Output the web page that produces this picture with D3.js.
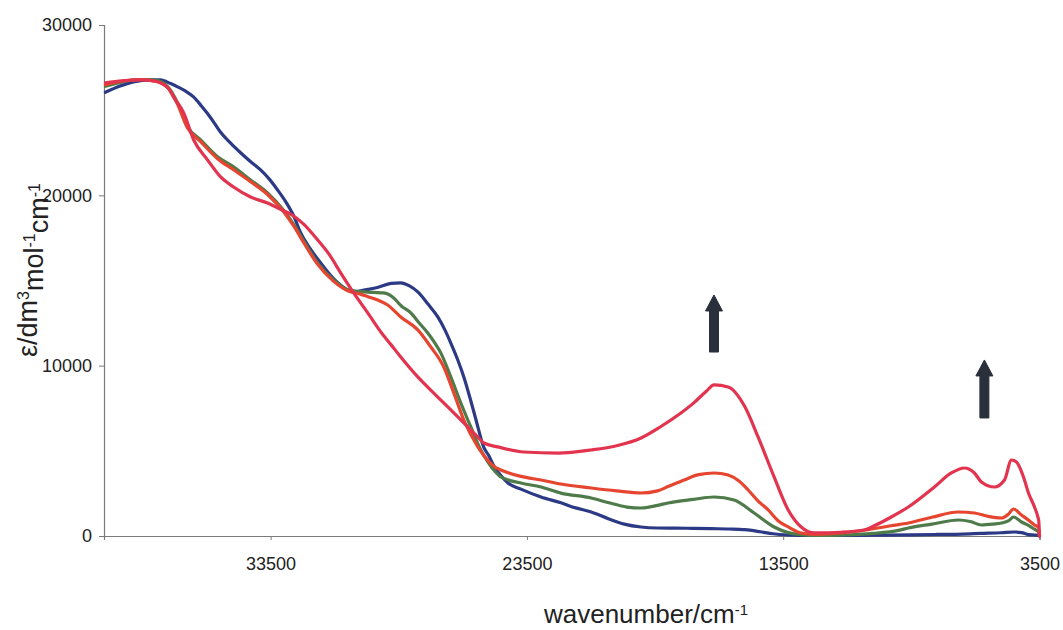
<!DOCTYPE html>
<html>
<head>
<meta charset="utf-8">
<script src="https://cdn.jsdelivr.net/npm/d3@7"></script>
<style>
  html, body { margin: 0; padding: 0; background: #fff; }
  svg { display: block; font-family: "Liberation Sans", Arial, sans-serif; }
</style>
</head>
<body>
<svg id="chart" width="1063" height="630"></svg>
<script>
// ---- data (wavenumber / cm^-1, epsilon / dm3 mol-1 cm-1) ----
const xTicks = [33500, 23500, 13500, 3500];
const yTicks = [0, 10000, 20000, 30000];

const seriesBlue = [
  [39945,26050],[39400,26400],[38850,26660],[38200,26780],[37800,26780],[37400,26560],[37130,26370],
  [36800,26100],[36508,25780],[36200,25250],[35960,24800],[35700,24250],[35450,23700],[35050,23050],
  [34670,22500],[34300,22000],[33890,21490],[33550,20950],[33230,20320],[32900,19600],[32600,18800],
  [32328,17800],[31950,16850],[31547,16030],[31100,15200],[30700,14650],[30258,14330],[29800,14450],
  [29300,14600],[28800,14830],[28422,14860],[28100,14700],[27758,14330],[27350,13600],[26977,12860],
  [26700,12100],[26469,11330],[26200,10350],[25961,9340],[25700,8000],[25500,6900],[25180,5200],
  [25000,4750],[24750,4000],[24516,3550],[24240,3110],[23734,2750],[22950,2290],[22172,1950],
  [21600,1650],[20990,1409],[20300,1000],[19700,700],[19047,528],[18400,470],[17700,460],[17000,450],
  [16300,430],[15600,410],[15000,370],[14400,250],[13900,130],[13300,60],[12500,30],[11500,30],
  [10500,40],[9500,50],[8500,70],[7500,90],[6500,110],[5800,150],[5000,190],[4477,235],[4200,200],
  [3930,80],[3700,60],[3550,40],[3500,0]
];

const seriesGreen = [
  [39945,26400],[39300,26650],[38600,26800],[38000,26760],[37500,26350],[37130,25430],[36740,24020],
  [36230,23250],[35570,22260],[34945,21670],[34280,20900],[33620,20140],[33000,19140],[32600,18300],
  [32200,17300],[31664,16030],[31039,15030],[30492,14450],[30000,14350],[29500,14300],[29086,14270],
  [28695,13970],[28400,13500],[28031,13100],[27700,12500],[27367,11920],[27100,11350],[26860,10750],
  [26469,9340],[26078,7810],[25688,6400],[25297,5050],[25000,4300],[24750,3800],[24516,3465],
  [23734,3110],[22950,2877],[22172,2520],[20990,2230],[20300,1950],[19600,1700],[19047,1644],
  [18400,1800],[17992,1940],[17000,2150],[16195,2290],[15414,2115],[14633,1350],[13852,530],
  [13305,200],[12914,100],[12000,30],[11000,60],[10000,150],[9000,330],[8617,470],[7700,700],
  [6665,940],[6200,850],[5766,646],[5300,700],[4984,763],[4700,900],[4516,1116],[4203,822],
  [3900,600],[3700,400],[3539,235],[3500,0]
];

const seriesOrange = [
  [39945,26500],[39300,26700],[38600,26800],[38000,26700],[37500,26300],[37130,25350],[36740,23950],
  [36230,23150],[35570,22150],[34945,21500],[34280,20800],[33620,20050],[33000,19050],[32600,18200],
  [32200,17200],[31664,15950],[31039,14950],[30492,14400],[30000,14200],[29700,14050],[29320,13860],
  [28930,13560],[28422,12860],[27758,12100],[27250,11100],[26742,9920],[26352,8400],[25961,6810],
  [25414,5230],[25000,4400],[24750,4050],[24516,3876],[23734,3500],[22950,3288],[22172,3050],
  [20990,2818],[20000,2650],[19047,2525],[18400,2650],[17992,2900],[17367,3290],[16800,3600],
  [16195,3700],[15648,3580],[15200,3200],[14867,2700],[14477,2050],[14086,1530],[13700,900],
  [13305,530],[12797,176],[12300,100],[11234,176],[10300,350],[9300,600],[8617,763],[7700,1100],
  [6665,1409],[6040,1350],[5500,1150],[4984,1057],[4700,1300],[4516,1585],[4203,1233],[3900,900],
  [3695,646],[3539,500],[3500,0]
];

const seriesPink = [
  [39945,26600],[39300,26720],[38578,26776],[38000,26700],[37500,26300],[37290,25780],[36890,24840],
  [36500,23250],[35960,22080],[35450,21080],[34945,20490],[34280,19900],[33620,19550],[33000,19100],
  [32719,18900],[32200,18300],[31664,17380],[31200,16500],[30766,15450],[30258,14270],[29711,13100],
  [29086,11750],[28813,11250],[28422,10510],[27758,9340],[26977,8160],[26195,6990],[25414,5810],
  [25180,5461],[24633,5230],[23617,4930],[22290,4870],[20990,5050],[20000,5300],[19047,5755],
  [18300,6400],[17600,7100],[17000,7800],[16500,8500],[16195,8870],[15648,8750],[15000,7600],
  [14477,5800],[13852,3460],[13305,1530],[12797,530],[12289,180],[11234,220],[10336,350],[9945,600],
  [9300,1100],[8617,1703],[7601,2877],[6940,3700],[6430,3993],[6040,3700],[5766,3171],[5258,2877],
  [4867,3288],[4594,4462],[4398,4345],[4125,3465],[3930,2525],[3695,1703],[3560,1100],[3530,900],
  [3500,0]
];

const series = [
  { name: "blue",   values: seriesBlue,   color: "#2c3985" },
  { name: "green",  values: seriesGreen,  color: "#4e7b49" },
  { name: "orange", values: seriesOrange, color: "#e6452f" },
  { name: "pink",   values: seriesPink,   color: "#e2344f" }
];

// arrows: wavenumber position, epsilon at tail, epsilon at tip
const arrowPos  = [16200, 5650];
const arrowTail = [10800, 6930];
const arrowTip  = [14150, 10335];

// ---- drawing ----
const svg = d3.select("#chart");
const x = d3.scaleLinear().domain([40000, 3500]).range([104, 1039.5]);
const y = d3.scaleLinear().domain([0, 30000]).range([536, 25]);

// axes
const yAxis = d3.axisLeft(y).tickValues(yTicks).tickSize(5).tickPadding(7).tickFormat(d3.format("d"));
const xAxis = d3.axisBottom(x).tickValues(xTicks).tickSize(4).tickPadding(17).tickFormat(d3.format("d"));

const gy = svg.append("g").attr("transform", "translate(104,0)").call(yAxis);
const gx = svg.append("g").attr("transform", "translate(0,536)").call(xAxis);
[gx, gy].forEach(g => {
  g.select(".domain").attr("stroke", "#7a7a7a").attr("stroke-width", 1.2);
  g.selectAll(".tick line").attr("stroke", "#7a7a7a");
  g.selectAll(".tick text").attr("fill", "#222").style("font-size", "18px")
    .style("font-family", "'Liberation Sans', Arial, sans-serif");
});

// lines
const line = d3.line()
  .x(d => x(d[0]))
  .y(d => y(d[1]))
  .curve(d3.curveMonotoneX);

svg.append("g").selectAll("path")
  .data(series)
  .join("path")
  .attr("d", d => line(d.values))
  .attr("fill", "none")
  .attr("stroke", d => d.color)
  .attr("stroke-width", 3.2)
  .attr("stroke-linejoin", "round")
  .attr("stroke-linecap", "round");

// arrows
const arrowG = svg.append("g");
arrowPos.forEach((w, i) => {
  const cx = x(w), yTip = y(arrowTip[i]), yTail = y(arrowTail[i]);
  const head = 16, hw = 8.5, sw = 4.5;
  const p = d3.path();
  p.moveTo(cx, yTip);
  p.lineTo(cx + hw, yTip + head);
  p.lineTo(cx + sw, yTip + head);
  p.lineTo(cx + sw, yTail);
  p.lineTo(cx - sw, yTail);
  p.lineTo(cx - sw, yTip + head);
  p.lineTo(cx - hw, yTip + head);
  p.closePath();
  arrowG.append("path").attr("d", p.toString()).attr("fill", "#2a303b")
    .attr("stroke", "#2a303b").attr("stroke-width", 1).attr("stroke-linejoin", "round");
});

// axis titles
const xt = svg.append("text")
  .attr("x", 646).attr("y", 623)
  .attr("text-anchor", "middle")
  .attr("fill", "#222")
  .style("font-size", "26px");
xt.append("tspan").text("wavenumber/cm");
xt.append("tspan").text("-1").attr("dy", "-0.55em").style("font-size", "15px");

const yt = svg.append("text")
  .attr("transform", "translate(37,270) rotate(-90)")
  .attr("text-anchor", "middle")
  .attr("fill", "#222")
  .style("font-size", "27px");
yt.append("tspan").text("ε/dm");
yt.append("tspan").text("3").attr("dy", "-0.5em").style("font-size", "16px");
yt.append("tspan").text("mol").attr("dy", "0.5em");
yt.append("tspan").text("-1").attr("dy", "-0.5em").style("font-size", "16px");
yt.append("tspan").text("cm").attr("dy", "0.5em");
yt.append("tspan").text("-1").attr("dy", "-0.5em").style("font-size", "16px");
</script>
</body>
</html>
